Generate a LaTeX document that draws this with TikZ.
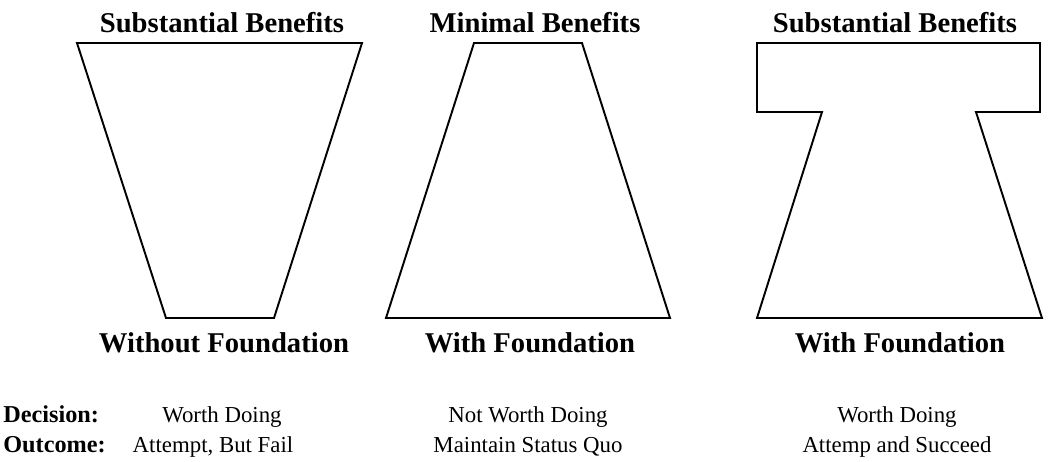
\documentclass[tikz,border=0pt]{standalone}
\usepackage{fontspec}
\setmainfont{Liberation Serif}
\usepackage{tikz}

\begin{document}
\begin{tikzpicture}[x=0.02cm, y=-0.02cm]
\tikzstyle{hdr}=[inner sep=0pt, anchor=base, font=\fontsize{16.3}{19}\selectfont\bfseries]
\tikzstyle{txt}=[inner sep=0pt, anchor=base, font=\fontsize{13}{15}\selectfont]
\tikzstyle{key}=[inner sep=0pt, anchor=base west, font=\fontsize{13.8}{15}\selectfont\bfseries]
\tikzstyle{shp}=[draw, line width=1.1pt, line join=miter]
\useasboundingbox (0,0) rectangle (1049,461);
% the three shapes
\draw[shp] (77,43)--(362,43)--(274,318)--(166,318)--cycle;
\draw[shp] (474,43)--(582,43)--(670,318)--(386,318)--cycle;
\draw[shp] (757,43)--(1040,43)--(1040,112)--(976,112)--(1042,318)
  --(757,318)--(822,112)--(757,112)--cycle;
% headings
	\node[hdr] (top1) at (222,32){Substantial Benefits};
	\node[hdr] (top2) at (535,32){Minimal Benefits};
	\node[hdr] (top3) at (895,32){Substantial Benefits};
	\node[hdr] (bot1) at (224,352){Without Foundation};
	\node[hdr] (bot2) at (530,352){With Foundation};
	\node[hdr] (bot3) at (900,352){With Foundation};
% decisions and outcomes
	\node[key] (dec) at (3,422){Decision:};
	\node[key] (out) at (3,452){Outcome:};
	\node[txt] (dec1) at (222,422){Worth Doing};
	\node[txt] (out1) at (213,452){Attempt, But Fail};
	\node[txt] (dec2) at (528,422){Not Worth Doing};
	\node[txt] (out2) at (528,452){Maintain Status Quo};
	\node[txt] (dec3) at (897,422){Worth Doing};
	\node[txt] (out3) at (897,452){Attemp and Succeed};
\end{tikzpicture}
\end{document}
